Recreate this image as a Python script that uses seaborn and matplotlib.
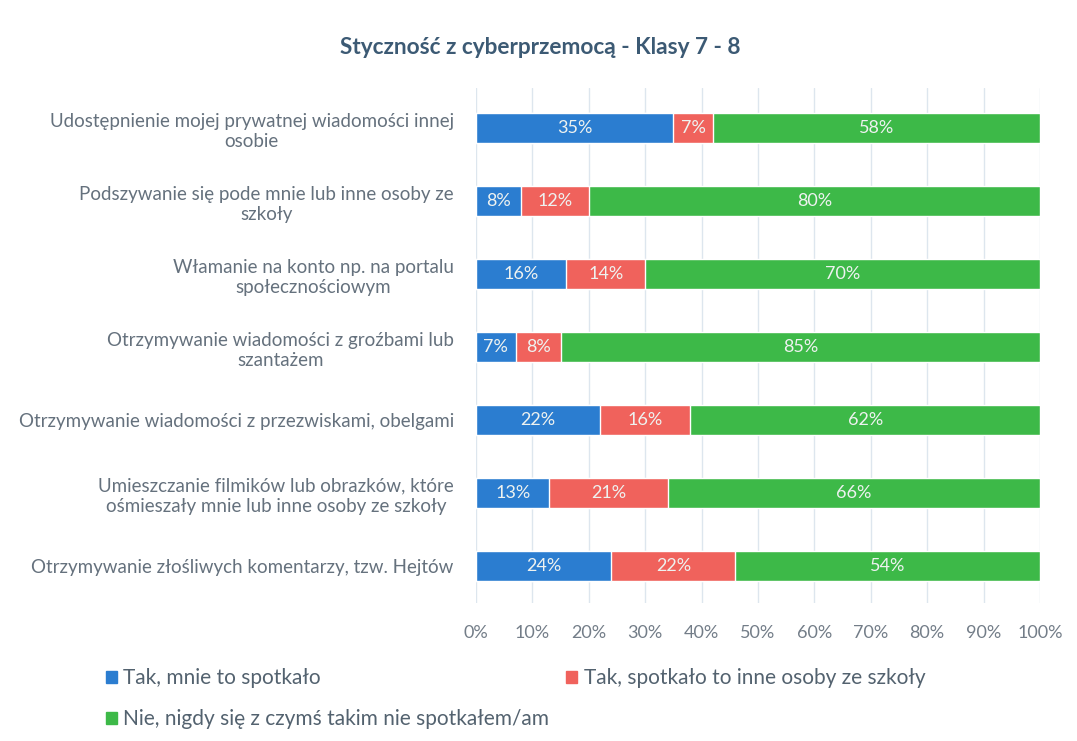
import numpy as np
import pandas as pd
import seaborn as sns
import matplotlib.pyplot as plt
from matplotlib.patches import Patch


categories = [
    'Udostępnienie mojej prywatnej wiadomości innej\nosobie',
    'Podszywanie się pode mnie lub inne osoby ze\nszkoły',
    'Włamanie na konto np. na portalu\nspołecznościowym',
    'Otrzymywanie wiadomości z groźbami lub\nszantażem',
    'Otrzymywanie wiadomości z przezwiskami, obelgami',
    'Umieszczanie filmików lub obrazków, które\nośmieszały mnie lub inne osoby ze szkoły',
    'Otrzymywanie złośliwych komentarzy, tzw. Hejtów',
]
tak_mnie = [35, 8, 16, 7, 22, 13, 24]
tak_inni = [7, 12, 14, 8, 16, 21, 22]
nie = [58, 80, 70, 85, 62, 66, 54]

series_names = ['Tak, mnie to spotkało',
                'Tak, spotkało to inne osoby ze szkoły',
                'Nie, nigdy się z czymś takim nie spotkałem/am']
colors = ['#2b7dd0', '#f0625c', '#3db948']

df = pd.DataFrame({'kat': categories, 'a': tak_mnie, 'b': tak_inni, 'c': nie})
df['ab'] = df['a'] + df['b']
df['abc'] = df['ab'] + df['c']

sns.set_theme(style='white')
plt.rcParams['font.family'] = ['Lato', 'DejaVu Sans']

fig = plt.figure(figsize=(10.77, 7.41), dpi=100)
ax = fig.add_axes([0.442, 0.186, 0.5236, 0.695])

# stacked bars: draw totals first, then overlay shorter parts
for col, c in zip(['abc', 'ab', 'a'], colors[::-1]):
    sns.barplot(data=df, y='kat', x=col, color=c, orient='h', width=0.41,
                saturation=1, ax=ax, zorder=3)

text_col = '#eef2f0'
for i in range(len(categories)):
    starts = [0, df['a'][i], df['ab'][i]]
    vals = [df['a'][i], df['b'][i], df['c'][i]]
    for s, v in zip(starts, vals):
        ax.text(s + v / 2, i, f'{v}%', ha='center', va='center',
                color=text_col, fontsize=13, zorder=4)

ax.set_xlim(0, 100)
ax.set_ylim(6.51, -0.55)
ax.set_xticks(np.arange(0, 101, 10))
ax.set_xticklabels([f'{t}%' for t in range(0, 101, 10)])
ax.grid(axis='x', color='#dde6ee', linewidth=1, zorder=0)
ax.set_axisbelow(True)
for s in ax.spines.values():
    s.set_visible(False)
ax.set_xlabel('')
ax.set_ylabel('')
ax.tick_params(axis='x', colors='#737d88', labelsize=13, pad=16, length=0)
ax.tick_params(axis='y', colors='#65717d', labelsize=13.5, pad=16, length=0)
for lbl in ax.get_yticklabels():
    lbl.set_multialignment('center')
    lbl.set_linespacing(1.25)

fig.text(0.502, 0.936, 'Styczność z cyberprzemocą - Klasy 7 - 8', ha='center',
         va='center', fontsize=16.3, fontweight='bold', color='#3c5a74')

handles = [Patch(color=colors[0], label=series_names[0]),
           Patch(color=colors[2], label=series_names[2]),
           Patch(color=colors[1], label=series_names[1])]
fig.legend(handles=handles, loc='upper left', ncol=2,
           bbox_to_anchor=(0.098, 0.098), frameon=False, fontsize=15,
           handlelength=0.55, handleheight=0.55, handletextpad=0.3,
           columnspacing=0.8, labelspacing=1.0, labelcolor='#53626f',
           borderaxespad=0, borderpad=0)

fig.savefig('out.png', dpi=100)
